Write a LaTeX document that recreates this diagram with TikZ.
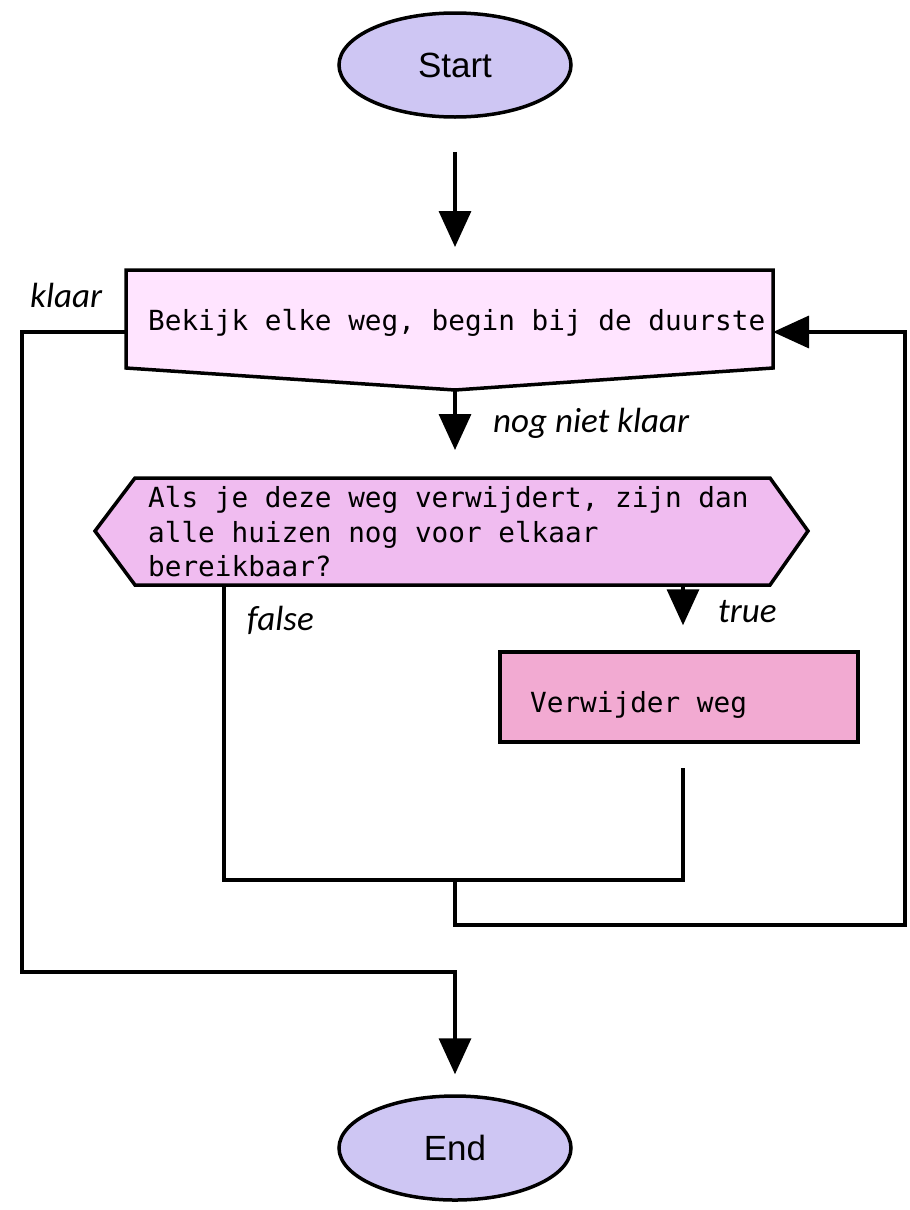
\documentclass[tikz,border=0pt]{standalone}
\usepackage{fontspec}
\setmainfont{Liberation Sans}
\newfontfamily\codefont{DejaVu Sans Mono}
\newfontfamily\labelfont{Carlito}
\usetikzlibrary{arrows.meta,shapes.geometric,calc}

\definecolor{termfill}{RGB}{206,198,243}
\definecolor{loopfill}{RGB}{255,228,255}
\definecolor{decfill}{RGB}{240,188,240}
\definecolor{actfill}{RGB}{242,170,210}

\tikzset{
  term/.style={ellipse, draw, fill=termfill, line width=3.5pt,
    minimum width=232pt, minimum height=104pt, inner sep=0pt,
    font=\fontsize{35}{40}\selectfont},
  code/.style={inner sep=0pt, anchor=base west,
    font=\codefont\fontsize{27.7}{34}\selectfont},
  lbl/.style={inner sep=0pt, anchor=base west,
    font=\labelfont\itshape\fontsize{35}{40}\selectfont},
  flow/.style={line width=3.5pt},
  arr/.style={flow, -{Triangle[length=36pt,width=32pt]}},
  outline/.style={draw, line width=3.5pt, line join=miter},
}

\begin{document}
\begin{tikzpicture}[x=1pt,y=-1pt]
\useasboundingbox (0,0) rectangle (910,1210);

% terminals
\node[term] (start) at (455,65) {Start};
\node[term] (end) at (455,1148) {End};

% loop header: box with a pointed bottom edge
\coordinate (lnw) at (126,270);
\coordinate (lne) at (773,270);
\coordinate (lse) at (773,368);
\coordinate (ltip) at (455,390);
\coordinate (lsw) at (126,368);
\coordinate (ltop) at (455,270);
\coordinate (lw) at (126,332);
\coordinate (le) at (773,332);
\path[outline, fill=loopfill] (lnw) -- (lne) -- (lse) -- (ltip) -- (lsw) -- cycle;
\node[code] (looptext) at (148,330) {Bekijk elke weg, begin bij de duurste};

% decision hexagon
\coordinate (hw) at (95,531);
\coordinate (hnw) at (135,478);
\coordinate (hne) at (770,478);
\coordinate (he) at (808,531);
\coordinate (hse) at (770,585);
\coordinate (hsw) at (135,585);
\coordinate (htop) at (455,478);
\coordinate (hf) at (224,585);
\coordinate (ht) at (683,585);
\path[outline, fill=decfill] (hw) -- (hnw) -- (hne) -- (he) -- (hse) -- (hsw) -- cycle;
\node[code] (q1) at (148,507) {Als je deze weg verwijdert, zijn dan};
\node[code] (q2) at (148,542) {alle huizen nog voor elkaar};
\node[code] (q3) at (148,576) {bereikbaar?};

% action
\node[draw, fill=actfill, line width=3.5pt, minimum width=358pt,
      minimum height=90pt, inner sep=0pt] (act) at (679,697) {};
\node[code] (acttext) at (530,712) {Verwijder weg};
\coordinate (actout) at (683,768);
\coordinate (merge) at (455,880);
\coordinate (back) at (905,925);
\coordinate (exitc) at (22,972);

% connectors
\draw[arr, shorten <=33pt, shorten >=23pt] (start.south) -- (ltop);
\draw[arr, shorten >=28pt] (ltip) -- (htop);
\draw[arr, shorten >=25pt] (ht) -- (act.north -| ht);
\draw[flow] (hf) |- (merge) -| (actout);
\draw[arr] (merge) |- (back) |- (le);
\draw[arr, shorten >=20pt] (lw) -| (exitc) -| (end.north);

% labels
\node[lbl] (lklaar) at (30,307) {klaar};
\node[lbl] (lnog) at (493,432) {nog niet klaar};
\node[lbl] (lfalse) at (247,630) {false};
\node[lbl] (ltrue) at (718,622) {true};
\end{tikzpicture}
\end{document}
